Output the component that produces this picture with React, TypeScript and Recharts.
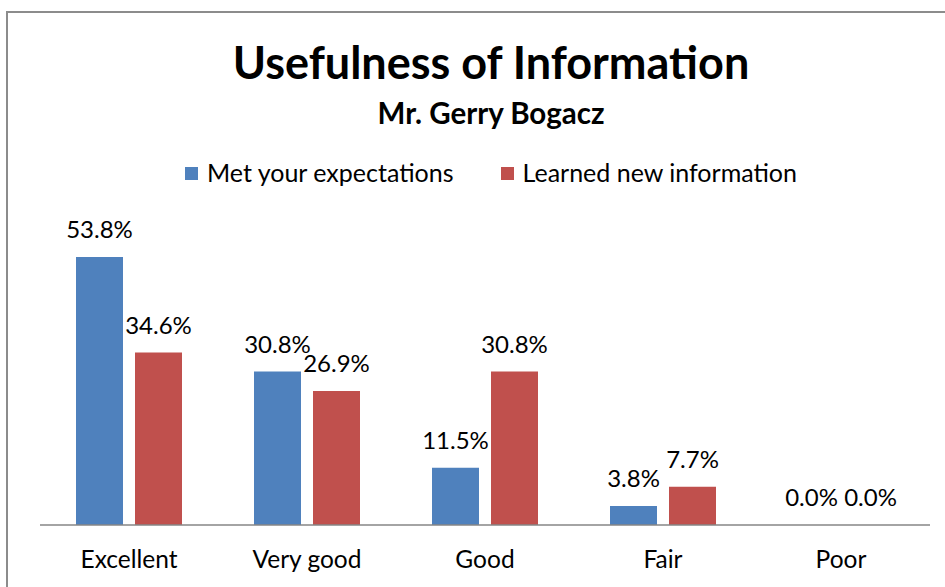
import { BarChart, Bar, XAxis, YAxis, LabelList } from 'recharts';

const categories = ['Excellent', 'Very good', 'Good', 'Fair', 'Poor'];
const metExpectations = [53.8, 30.8, 11.5, 3.8, 0.0];
const learnedNew = [34.6, 26.9, 30.8, 7.7, 0.0];
const seriesNames = ['Met your expectations', 'Learned new information'];
const colors = ['#4F81BD', '#C0504D'];

const FONT = 'Lato, "Open Sans", sans-serif';

const chartData = categories.map((name, i) => ({
  name,
  met: metExpectations[i],
  learned: learnedNew[i],
}));

function LegendRow() {
  return (
    <div
      style={{
        position: 'absolute',
        top: 157,
        left: 0,
        width: 982,
        display: 'flex',
        justifyContent: 'center',
        fontFamily: FONT,
        fontSize: 25,
        lineHeight: '30px',
        color: '#000',
      }}
    >
      {seriesNames.map((s, i) => (
        <div key={s} style={{ display: 'flex', alignItems: 'center', marginRight: i === 0 ? 47 : 0 }}>
          <span style={{ width: 13, height: 13, background: colors[i], display: 'inline-block', marginRight: 9, marginTop: 2 }} />
          <span>{s}</span>
        </div>
      ))}
    </div>
  );
}

export default function App() {
  const fmt = (v: any) => Number(v).toFixed(1) + '%';
  const labelStyle = { fontSize: 24, fill: '#000', fontFamily: FONT };
  return (
    <div style={{ position: 'absolute', left: 0, top: 0, width: 945, height: 587, overflow: 'hidden', background: '#fff' }}>
      <div
        style={{
          position: 'absolute',
          left: 6,
          top: 11,
          width: 1000,
          height: 1000,
          border: '2px solid #8c8c8c',
          boxSizing: 'border-box',
        }}
      />
      <div
        style={{
          position: 'absolute',
          top: 35,
          left: 0,
          width: 982,
          textAlign: 'center',
          fontFamily: FONT,
          fontWeight: 700,
          fontSize: 45,
          lineHeight: '54px',
        }}
      >
        Usefulness of Information
      </div>
      <div
        style={{
          position: 'absolute',
          top: 95,
          left: 0,
          width: 982,
          textAlign: 'center',
          fontFamily: FONT,
          fontWeight: 700,
          fontSize: 29.5,
          lineHeight: '36px',
        }}
      >
        Mr. Gerry Bogacz
      </div>
      <LegendRow />
      <div style={{ position: 'absolute', left: 0, top: 0 }}>
        <BarChart
          width={945}
          height={587}
          data={chartData}
          margin={{ top: 226, right: 15, left: 40, bottom: 0 }}
          barSize={47}
          barGap={12}
        >
          <XAxis
            dataKey="name"
            height={62}
            axisLine={{ stroke: '#868686', strokeWidth: 1.5 }}
            tickLine={false}
            tickMargin={20}
            tick={{ fontSize: 24.5, fill: '#000', fontFamily: FONT }}
          />
          <YAxis hide domain={[0, 60]} />
          <Bar dataKey="met" fill={colors[0]} minPointSize={0.01} isAnimationActive={false}>
            <LabelList dataKey="met" position="top" offset={19} formatter={fmt} style={labelStyle} />
          </Bar>
          <Bar dataKey="learned" fill={colors[1]} minPointSize={0.01} isAnimationActive={false}>
            <LabelList dataKey="learned" position="top" offset={19} formatter={fmt} style={labelStyle} />
          </Bar>
        </BarChart>
      </div>
    </div>
  );
}
